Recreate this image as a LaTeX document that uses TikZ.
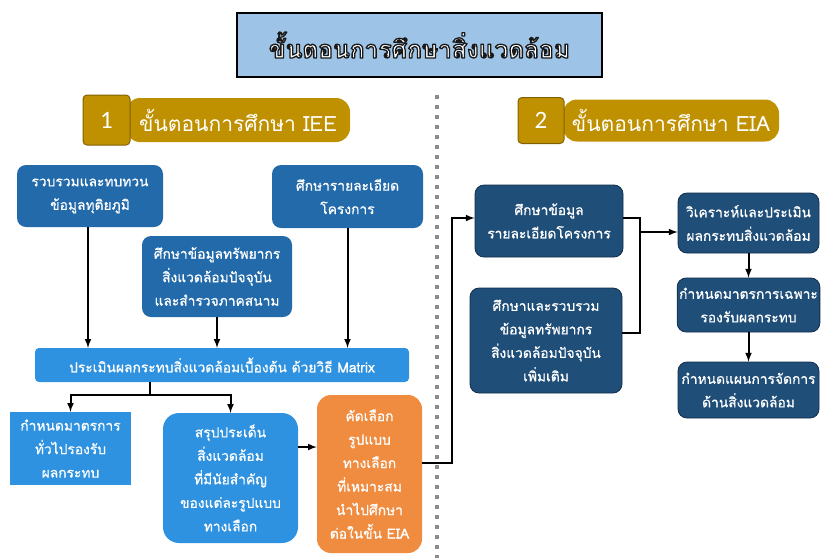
\documentclass[tikz,border=0pt]{standalone}
\usepackage{fontspec}
\newfontfamily\thaifont[Script=Thai]{Loma}
\newfontfamily\thaiheavy[Script=Thai,FakeBold=0.8]{Loma}
\newfontfamily\numfont{Carlito}
\usetikzlibrary{arrows,positioning,calc}

\definecolor{titlefill}{RGB}{157,195,230}
\definecolor{gold}{RGB}{191,144,0}
\definecolor{golddark}{RGB}{130,98,0}
\definecolor{midblue}{RGB}{34,106,170}
\definecolor{liteblue}{RGB}{46,146,224}
\definecolor{navy}{RGB}{31,78,121}
\definecolor{navyline}{RGB}{18,45,75}
\definecolor{orangebox}{RGB}{239,140,64}
\definecolor{dotgray}{RGB}{140,140,140}

% white letters with a dark edge
\newcommand{\edgetext}[1]{\special{pdf:literal direct 1 1 1 rg 0.1 0.1 0.1 RG 1.3 w 1 j 2 Tr}#1\special{pdf:literal direct 0 Tr}}

\begin{document}
\begin{tikzpicture}
  [x=1pt,y=-1pt,
   every node/.style={text=white, align=center, inner sep=2pt,
     font=\thaiheavy\fontsize{13.8}{23.5}\selectfont},
   sz/.style 2 args={minimum width=#1, minimum height=#2},
   titlebox/.style={fill=titlefill, draw=black, line width=2.5pt,
     font=\thaifont\bfseries\fontsize{24.5}{28}\selectfont},
   pill/.style={fill=gold, rounded corners=14pt,
     font=\thaifont\fontsize{21}{24}\selectfont},
   numbox/.style={fill=gold, draw=golddark, line width=1pt, rounded corners=4pt,
     font=\numfont\fontsize{25}{27}\selectfont},
   darkbox/.style={fill=midblue, rounded corners=9pt},
   litebox/.style={fill=liteblue, rounded corners=4pt},
   roundbox/.style={fill=liteblue, rounded corners=16pt},
   orgbox/.style={fill=orangebox, rounded corners=14pt},
   navybox/.style={fill=navy, draw=navyline, line width=.8pt, rounded corners=9pt},
   arr/.style={-latex, line width=2pt, black},
   ln/.style={line width=2pt, black}]
  \useasboundingbox (0,0) rectangle (821,558);

  % title
  \node [titlebox, sz={365}{64}] (title) at (419.5,45)
    {\edgetext{ขั้นตอนการศึกษาสิ่งแวดล้อม}};

  % headers
  \node [pill, sz={224}{44}] (hdrA) at (238,120) {ขั้นตอนการศึกษา IEE};
  \node [numbox, sz={47}{50}] (numA) at (106.5,120) {1};
  \node [pill, sz={216}{42}] (hdrB) at (671,120.5) {ขั้นตอนการศึกษา EIA};
  \node [numbox, sz={46}{46}] (numB) at (541,120.5) {2};

  % divider
  \coordinate (divtop) at (437,95);
  \coordinate (divbot) at (437,558);
  \draw [dotgray, line width=4pt, dash pattern=on 4pt off 6pt] (divtop) -- (divbot);

  % IEE
  \node [darkbox, sz={146}{62}] (A) at (90,196) {รวบรวมและทบทวน\\ข้อมูลทุติยภูมิ};
  \node [darkbox, sz={151}{63}] (C) at (347.5,196.5) {ศึกษารายละเอียด\\โครงการ};
  \node [darkbox, sz={150}{81}] (B) at (217,276.5)
    {ศึกษาข้อมูลทรัพยากร\\สิ่งแวดล้อมปัจจุบัน\\และสำรวจภาคสนาม};
  \node [litebox, sz={374}{34}] (M) at (222,365)
    {ประเมินผลกระทบสิ่งแวดล้อมเบื้องต้น ด้วยวิธี Matrix};
  \node [fill=liteblue, sz={121}{73}] (D) at (70.5,448.5)
    {กำหนดมาตรการ\\ทั่วไปรองรับ\\ผลกระทบ};
  \node [roundbox, sz={135}{130}] (E) at (230.5,478)
    {สรุปประเด็น\\สิ่งแวดล้อม\\ที่มีนัยสำคัญ\\ของแต่ละรูปแบบ\\ทางเลือก};
  \node [orgbox, sz={105}{158}] (F) at (369.5,474)
    {คัดเลือก\\รูปแบบ\\ทางเลือก\\ที่เหมาะสม\\นำไปศึกษา\\ต่อในขั้น EIA};

  \draw [arr] (A.south -| 88,0) -- (M.north -| 88,0);
  \draw [arr] (B) -- (B |- M.north);
  \draw [arr] (C) -- (C |- M.north);

  \coordinate (split) at (150,395);
  \draw [ln] (split |- M.south) -- (split);
  \draw [arr] (split) -| (D.north);
  \draw [arr] (split) -| (E.north);
  \draw [arr] ([yshift=31pt]E.east) -- ([yshift=31pt]E.east -| F.west);

  % EIA
  \node [navybox, sz={148}{72}] (G) at (549,221) {ศึกษาข้อมูล\\รายละเอียดโครงการ};
  \node [navybox, sz={152}{105}] (H) at (546,340.5)
    {ศึกษาและรวบรวม\\ข้อมูลทรัพยากร\\สิ่งแวดล้อมปัจจุบัน\\เพิ่มเติม};
  \node [navybox, sz={141}{60}] (I) at (748.5,223) {วิเคราะห์และประเมิน\\ผลกระทบสิ่งแวดล้อม};
  \node [navybox, sz={141}{54}] (J) at (748.5,305) {กำหนดมาตรการเฉพาะ\\รองรับผลกระทบ};
  \node [navybox, sz={141}{56}] (K) at (748.5,390) {กำหนดแผนการจัดการ\\ด้านสิ่งแวดล้อม};

  \draw [arr] ([yshift=11pt]F.east) -- ++(30,0) |- ([yshift=3pt]G.west);

  \coordinate (jn) at (640,232);
  \draw [ln] ([yshift=3pt]G.east) -| ([yshift=7.5pt]H.east -| jn) -- ([yshift=7.5pt]H.east);
  \draw [arr] (jn) -- (jn -| I.west);
  \draw [arr] (I) -- (J);
  \draw [arr] (J) -- (K);

\end{tikzpicture}
\end{document}
